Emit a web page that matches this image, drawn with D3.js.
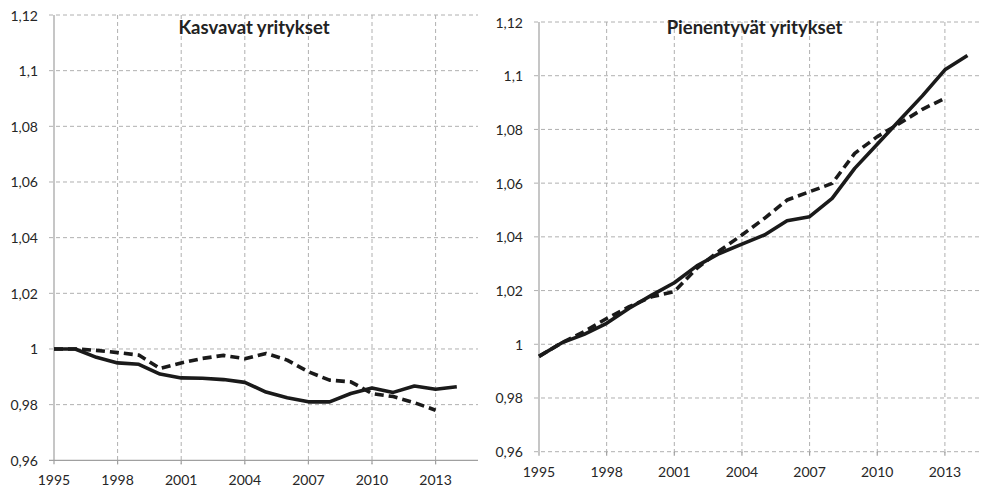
<!DOCTYPE html>
<html>
<head>
<meta charset="utf-8">
<script src="https://cdn.jsdelivr.net/npm/d3@7"></script>
<style>
  body { margin: 0; background: #fff; }
  svg { display: block; font-family: Lato, "Open Sans", sans-serif; }
  .grid line { stroke: #b0b0b0; stroke-width: 1; stroke-dasharray: 4,3; }
  .tick-label { fill: #262626; font-size: 14px; }
  .title { fill: #222; font-size: 18.5px; font-weight: bold; }
  .axis-line { stroke: #a0a0a0; stroke-width: 1.2; }
  .series { fill: none; stroke: #1a1a1a; stroke-width: 3.6; stroke-linejoin: round; }
  .dashed { stroke-dasharray: 9,5; }
</style>
</head>
<body>
<svg width="982" height="488"></svg>
<script>
const years = d3.range(1995, 2015);
const xTicks = [1995, 1998, 2001, 2004, 2007, 2010, 2013];
const yTicks = [0.96, 0.98, 1, 1.02, 1.04, 1.06, 1.08, 1.1, 1.12];

// Kasvavat yritykset
const growSolid = [1.000, 1.000, 0.997, 0.995, 0.9945, 0.991, 0.9896, 0.9895, 0.989, 0.988,
  0.9845, 0.9825, 0.981, 0.981, 0.984, 0.986, 0.9844, 0.9867, 0.9855, 0.9864];
const growDashed = [1.000, 1.000, 0.9995, 0.9987, 0.9978, 0.993, 0.995, 0.9966, 0.9977, 0.9965,
  0.9984, 0.996, 0.9918, 0.9888, 0.9882, 0.984, 0.9829, 0.9807, 0.978];

// Pienentyvät yritykset
const shrinkSolid = [0.9955, 1.0005, 1.0037, 1.0078, 1.0134, 1.0183, 1.0229, 1.0292, 1.0338, 1.0373,
  1.0407, 1.046, 1.0475, 1.0543, 1.0655, 1.0745, 1.0835, 1.0925, 1.1022, 1.1075];
const shrinkDashed = [0.9955, 1.0005, 1.0047, 1.0096, 1.014, 1.0177, 1.0196, 1.0283, 1.0348, 1.0407,
  1.0469, 1.0537, 1.0568, 1.0599, 1.0711, 1.0773, 1.0823, 1.0875, 1.0916];

const svg = d3.select("svg");
const fmt = v => String(+v.toFixed(2)).replace(".", ",");

function drawPanel(p) {
  const x = d3.scaleLinear().domain([1995, 2015]).range([p.left, p.right]);
  const y = d3.scaleLinear().domain([0.96, 1.12]).range([p.bottom, p.top]);
  const g = svg.append("g");

  const grid = g.append("g").attr("class", "grid");
  grid.selectAll(".h").data(yTicks.filter(v => p.solidBase ? v > 0.96 : true)).enter().append("line")
    .attr("x1", p.left - 5).attr("x2", p.right)
    .attr("y1", d => y(d)).attr("y2", d => y(d));
  grid.selectAll(".v").data(xTicks.slice(1)).enter().append("line")
    .attr("x1", d => x(d)).attr("x2", d => x(d))
    .attr("y1", p.top).attr("y2", p.bottom + 4);

  // bottom ticks
  g.selectAll(".bt").data(xTicks).enter().append("line")
    .attr("class", "axis-line")
    .attr("x1", d => x(d)).attr("x2", d => x(d))
    .attr("y1", p.bottom).attr("y2", p.bottom + 4);

  if (p.solidBase) {
    g.append("line").attr("class", "axis-line")
      .attr("x1", p.left - 5).attr("x2", p.right)
      .attr("y1", p.bottom).attr("y2", p.bottom);
  }
  g.append("line").attr("class", "axis-line")
    .attr("x1", p.left).attr("x2", p.left)
    .attr("y1", p.top).attr("y2", p.bottom);

  g.selectAll(".yl").data(yTicks).enter().append("text")
    .attr("class", "tick-label")
    .attr("x", p.left - 16).attr("y", d => y(d))
    .attr("text-anchor", "end").attr("dominant-baseline", "central")
    .text(fmt);

  g.selectAll(".xl").data(xTicks).enter().append("text")
    .attr("class", "tick-label")
    .attr("x", d => x(d)).attr("y", p.bottom + 25)
    .attr("text-anchor", "middle")
    .text(d => d);

  const line = d3.line().x((d, i) => x(years[i])).y(d => y(d));
  g.append("path").attr("class", "series dashed").attr("d", line(p.dashed));
  g.append("path").attr("class", "series").attr("d", line(p.solid));

  g.append("text").attr("class", "title")
    .attr("x", p.titleX).attr("y", 34)
    .attr("text-anchor", "middle")
    .text(p.title);
}

drawPanel({
  left: 54, right: 478, top: 15, bottom: 460.3,
  solid: growSolid, dashed: growDashed, solidBase: true,
  title: "Kasvavat yritykset", titleX: 254
});

drawPanel({
  left: 539, right: 990, top: 22, bottom: 451.7,
  solid: shrinkSolid, dashed: shrinkDashed, solidBase: false,
  title: "Pienentyvät yritykset", titleX: 754.5
});
</script>
</body>
</html>
